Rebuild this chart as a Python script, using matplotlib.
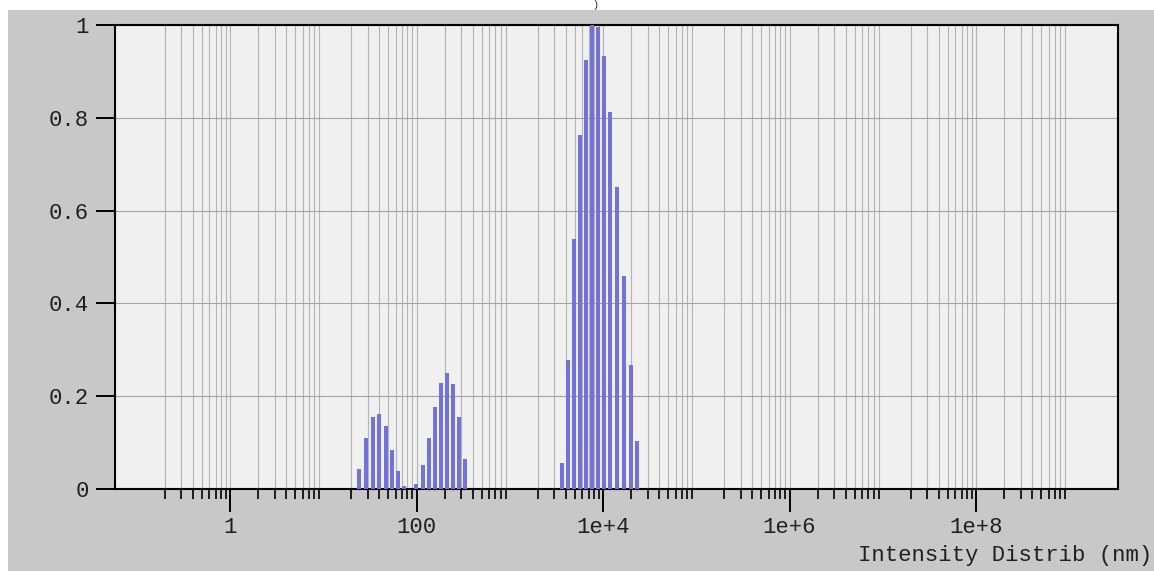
import numpy as np
import matplotlib.pyplot as plt
from matplotlib.patches import Rectangle

sizes = [24.4, 28.7, 34.4, 39.9, 47.1, 54.6, 63.8, 74.0, 85.2, 98.8,
         116.6, 136.3, 156.8, 183.3, 210.8, 244.5, 285.6, 331.2,
         3606, 4214, 4925, 5710, 6622, 7680, 8836, 10250, 11890,
         14230, 16800, 19950, 23330]
intensity = [0.043, 0.109, 0.155, 0.161, 0.135, 0.084, 0.038, 0.007, 0.0, 0.011,
             0.052, 0.109, 0.177, 0.229, 0.249, 0.227, 0.155, 0.065,
             0.057, 0.279, 0.538, 0.763, 0.924, 1.0, 0.995, 0.933, 0.813,
             0.65, 0.459, 0.268, 0.103]

major_x = [1, 100, 1e4, 1e6, 1e8]
major_lbl = ["1", "100", "1e+4", "1e+6", "1e+8"]
yticks = [0, 0.2, 0.4, 0.6, 0.8, 1]
ylbl = ["0", "0.2", "0.4", "0.6", "0.8", "1"]

W, H = 1154, 571
fig = plt.figure(figsize=(W / 100, H / 100), dpi=100, facecolor="white")
# grey panel, white strip on top and left
fig.patches.append(Rectangle((8 / W, 0), 1, 1 - 10 / H, transform=fig.transFigure,
                             facecolor="#c8c8c8", edgecolor="none", zorder=-10))

ax = fig.add_axes([115 / W, 1 - 489 / H, (1118 - 115) / W, (489 - 25) / H])
ax.set_facecolor("#f0f0f0")
ax.set_xscale("log")
ax.set_xlim(0.0584, 3.33e9)
ax.set_ylim(0, 1)

# bars: equal width in log space
s = np.array(sizes)
hw = 0.022
left = s / 10 ** hw
ax.bar(left, intensity, width=s * 10 ** hw - left, align="edge",
       color="#7272d8", edgecolor="none", zorder=3)

minor_x = [m * 10.0 ** k for k in range(-1, 9) for m in range(2, 10)]
ax.set_xticks(major_x)
ax.set_xticklabels(major_lbl)
ax.set_xticks(minor_x, minor=True)
ax.xaxis.set_minor_formatter(plt.NullFormatter())
ax.set_yticks(yticks)
ax.set_yticklabels(ylbl)

mono = "Liberation Mono"
for t in ax.get_xticklabels() + ax.get_yticklabels():
    t.set_family(mono)
    t.set_fontsize(16)
    t.set_color("#202020")

ax.tick_params(axis="x", which="major", direction="out", length=16.5, width=1.4, pad=4)
ax.tick_params(axis="x", which="minor", direction="out", length=7, width=1.2)
ax.tick_params(axis="y", which="major", direction="out", length=14, width=1.4, pad=5)

ax.grid(True, axis="x", which="both", color="#b4b4b4", lw=0.8, zorder=0)
ax.grid(True, axis="y", which="major", color="#a4a4a4", lw=0.8, zorder=0)
ax.set_axisbelow(True)

for sp in ax.spines.values():
    sp.set_linewidth(1.5)
    sp.set_color("black")

fig.text(1152 / W, 1 - 556 / H, "Intensity Distrib (nm)", ha="right", va="center",
         family=mono, fontsize=16, color="#202020")
# bit of a title at the top edge
fig.text(595 / W, 1 - 5 / H, ")", ha="center", va="center", family=mono,
         fontsize=7, color="#202020")

fig.savefig("out.png", dpi=100, facecolor=fig.get_facecolor())
